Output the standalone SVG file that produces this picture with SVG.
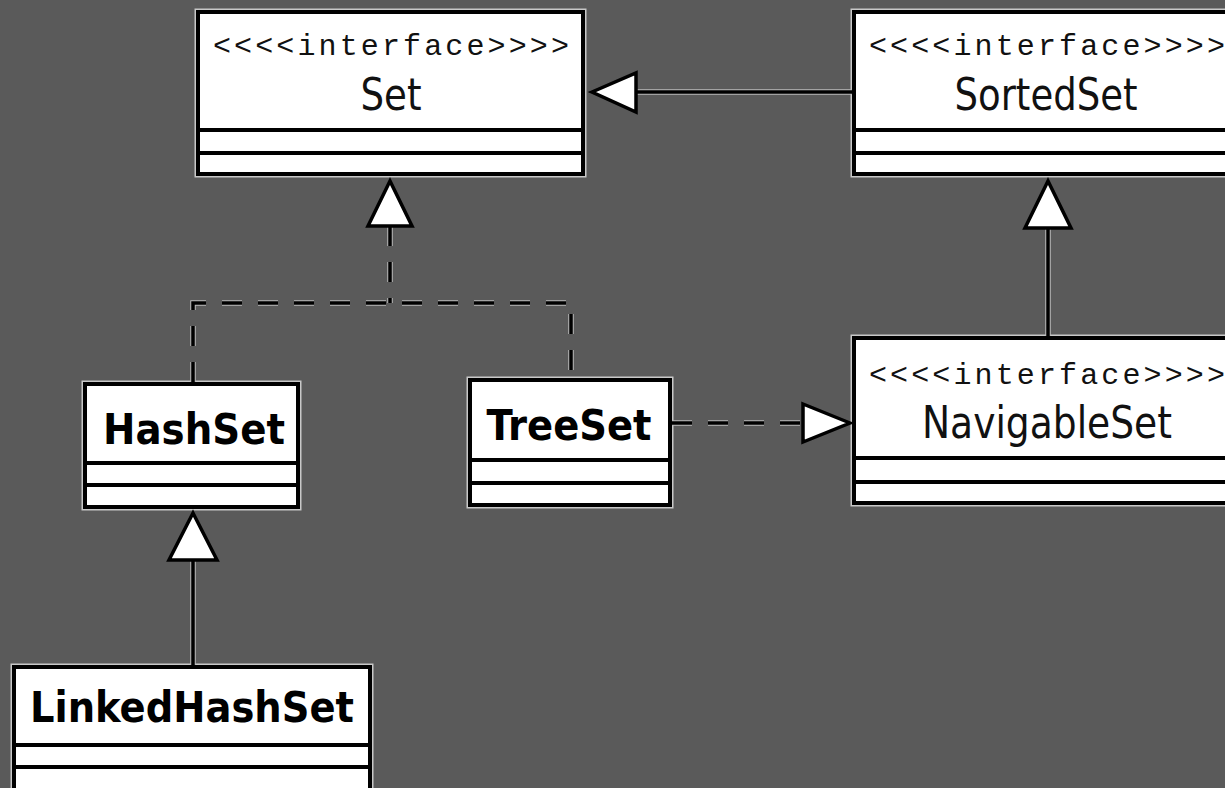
<svg xmlns="http://www.w3.org/2000/svg" width="1225" height="788" viewBox="0 0 1225 788">
<style>
.box{fill:#fff;stroke:#000;stroke-width:4}
.halo{fill:none;stroke:#c8c8c8;stroke-width:7}
.div{stroke:#000;stroke-width:4}
.st{font-family:"Liberation Mono","Courier New","Nimbus Mono PS",monospace;font-size:30px;fill:#111}
.nm{font-family:"DejaVu Sans Condensed","DejaVu Sans",sans-serif;font-size:44px;fill:#111}
.bd{font-family:"DejaVu Sans Condensed","DejaVu Sans",sans-serif;font-size:42px;font-weight:bold;fill:#000}
.ln{fill:none;stroke:#000;stroke-width:3.5}
.lh{fill:none;stroke:#bbb;stroke-width:5.5}
.dash{stroke-dasharray:20 16}
.tri{fill:#fff;stroke:#000;stroke-width:3.5;stroke-linejoin:miter}
</style>
<rect width="1225" height="788" fill="#5a5a5a"/>

<g id="Set">
<rect class="halo" x="198" y="12" width="385" height="162"/>
<rect class="box" x="198" y="12" width="385" height="162"/>
<line class="div" x1="198" y1="130" x2="583" y2="130"/>
<line class="div" x1="198" y1="153" x2="583" y2="153"/>
<text class="st" x="391" y="55" text-anchor="middle" textLength="356" lengthAdjust="spacing">&lt;&lt;&lt;&lt;interface&gt;&gt;&gt;&gt;</text>
<text class="nm" x="391" y="110" text-anchor="middle" textLength="61" lengthAdjust="spacingAndGlyphs">Set</text>
</g>

<g id="SortedSet">
<rect class="halo" x="854" y="12" width="400" height="162"/>
<rect class="box" x="854" y="12" width="400" height="162"/>
<line class="div" x1="854" y1="130" x2="1254" y2="130"/>
<line class="div" x1="854" y1="153" x2="1254" y2="153"/>
<text class="st" x="1047" y="55" text-anchor="middle" textLength="356" lengthAdjust="spacing">&lt;&lt;&lt;&lt;interface&gt;&gt;&gt;&gt;</text>
<text class="nm" x="1046" y="110" text-anchor="middle" textLength="183" lengthAdjust="spacingAndGlyphs">SortedSet</text>
</g>

<g id="NavigableSet">
<rect class="halo" x="854" y="338" width="400" height="165"/>
<rect class="box" x="854" y="338" width="400" height="165"/>
<line class="div" x1="854" y1="458" x2="1254" y2="458"/>
<line class="div" x1="854" y1="482" x2="1254" y2="482"/>
<text class="st" x="1047" y="384" text-anchor="middle" textLength="356" lengthAdjust="spacing">&lt;&lt;&lt;&lt;interface&gt;&gt;&gt;&gt;</text>
<text class="nm" x="1047" y="438" text-anchor="middle" textLength="250" lengthAdjust="spacingAndGlyphs">NavigableSet</text>
</g>

<g id="HashSet">
<rect class="halo" x="85" y="384" width="213" height="123"/>
<rect class="box" x="85" y="384" width="213" height="123"/>
<line class="div" x1="85" y1="463" x2="298" y2="463"/>
<line class="div" x1="85" y1="485" x2="298" y2="485"/>
<text class="bd" x="194" y="444" text-anchor="middle" textLength="182" lengthAdjust="spacingAndGlyphs">HashSet</text>
</g>

<g id="TreeSet">
<rect class="halo" x="470" y="380" width="200" height="125"/>
<rect class="box" x="470" y="380" width="200" height="125"/>
<line class="div" x1="470" y1="460" x2="670" y2="460"/>
<line class="div" x1="470" y1="483" x2="670" y2="483"/>
<text class="bd" x="569" y="440" text-anchor="middle" textLength="165" lengthAdjust="spacingAndGlyphs">TreeSet</text>
</g>

<g id="LinkedHashSet">
<rect class="halo" x="14" y="667" width="356" height="140"/>
<rect class="box" x="14" y="667" width="356" height="140"/>
<line class="div" x1="14" y1="745" x2="370" y2="745"/>
<line class="div" x1="14" y1="767" x2="370" y2="767"/>
<text class="bd" x="192" y="722" text-anchor="middle" textLength="324" lengthAdjust="spacingAndGlyphs">LinkedHashSet</text>
</g>

<g id="connectors">
<line class="lh" x1="636" y1="92" x2="852" y2="92"/>
<line class="ln" x1="636" y1="92" x2="852" y2="92"/>
<polygon class="tri" points="592,92 636,73 636,112"/>
<path class="lh dash" d="M390,226 V303"/>
<path class="ln dash" d="M390,226 V303"/>
<path class="lh dash" d="M193,382 V303 H571 V378"/>
<path class="ln dash" d="M193,382 V303 H571 V378"/>
<polygon class="tri" points="390,181 368,226 412,226"/>
<line class="lh" x1="1048" y1="228" x2="1048" y2="336"/>
<line class="ln" x1="1048" y1="228" x2="1048" y2="336"/>
<polygon class="tri" points="1048,181 1025,228 1071,228"/>
<path class="lh dash" d="M672,423 H803"/>
<path class="ln dash" d="M672,423 H803"/>
<polygon class="tri" points="850,423 803,404 803,442"/>
<line class="lh" x1="193" y1="560" x2="193" y2="665"/>
<line class="ln" x1="193" y1="560" x2="193" y2="665"/>
<polygon class="tri" points="193,513 169,560 217,560"/>
</g>
</svg>
